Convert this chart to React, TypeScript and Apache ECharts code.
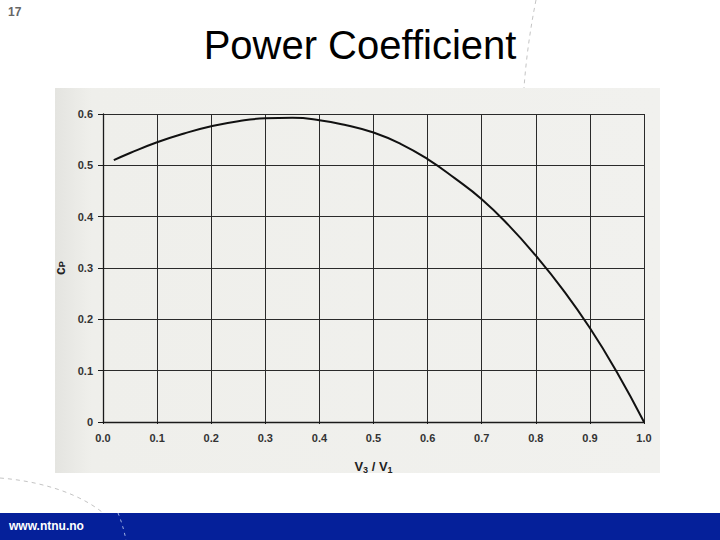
import React, { useEffect, useRef } from "react";
import * as echarts from "echarts";

// Velocity ratio V3/V1 and power coefficient
const speedRatio = [0.02, 0.05, 0.1, 0.15, 0.2, 0.25, 0.3, 0.35, 0.4, 0.45, 0.5, 0.55, 0.6, 0.65, 0.7, 0.75, 0.8, 0.85, 0.9, 0.95, 1.0];
const powerCoeff = [0.51, 0.524, 0.545, 0.562, 0.576, 0.586, 0.5915, 0.5925, 0.588, 0.578, 0.564, 0.542, 0.512, 0.475, 0.434, 0.383, 0.324, 0.258, 0.183, 0.097, 0.0];
const xTickLabels = ["0.0", "0.1", "0.2", "0.3", "0.4", "0.5", "0.6", "0.7", "0.8", "0.9", "1.0"];
const yTickLabels = ["0", "0.1", "0.2", "0.3", "0.4", "0.5", "0.6"];

const titleText = "Power Coefficient";
const pageNumber = "17";
const footerText = "www.ntnu.no";

export default function App() {
  const ref = useRef<HTMLDivElement>(null);

  useEffect(() => {
    if (!ref.current) return;
    const chart = echarts.init(ref.current, null, { renderer: "svg" });
    const data = speedRatio.map((x, i) => [x, powerCoeff[i]]);
    const labelFont = "'Liberation Sans', Arial, sans-serif";

    chart.setOption({
      animation: false,
      backgroundColor: "#ffffff",
      graphic: [
        // scanned figure background
        {
          type: "rect",
          z: -10,
          shape: { x: 55, y: 88, width: 605, height: 385 },
          style: {
            fill: new echarts.graphic.LinearGradient(0, 0, 1, 0, [
              { offset: 0, color: "#e4e4e0" },
              { offset: 0.06, color: "#efefeb" },
              { offset: 1, color: "#f1f1ee" },
            ]),
          },
        },
        // decorative dashed arcs
        {
          type: "bezierCurve",
          z: -5,
          shape: { x1: 536, y1: 0, x2: 524, y2: 88, cpx1: 530, cpy1: 30, cpx2: 526, cpy2: 60 },
          style: { stroke: "#c4c4c4", lineWidth: 1, lineDash: [4, 4], fill: "none" },
        },
        {
          type: "bezierCurve",
          z: -5,
          shape: { x1: 0, y1: 478, x2: 126, y2: 540, cpx1: 50, cpy1: 482, cpx2: 105, cpy2: 500 },
          style: { stroke: "#c4c4c4", lineWidth: 1, lineDash: [4, 4], fill: "none" },
        },
        {
          type: "text",
          left: 8,
          top: 6,
          style: { text: pageNumber, font: "bold 12px 'Liberation Sans', Arial, sans-serif", fill: "#666666" },
        },
        {
          type: "text",
          x: 360,
          y: 45,
          style: {
            text: titleText,
            font: "40px 'Liberation Sans', Arial, sans-serif",
            fill: "#000000",
            align: "center",
            verticalAlign: "middle",
          },
        },
        {
          type: "rect",
          shape: { x: 0, y: 513, width: 720, height: 27 },
          style: { fill: "#05209a" },
        },
        {
          type: "text",
          x: 9,
          y: 526,
          style: {
            text: footerText,
            font: "bold 12px 'Liberation Sans', Arial, sans-serif",
            fill: "#ffffff",
            verticalAlign: "middle",
          },
        },
        {
          type: "bezierCurve",
          shape: { x1: 118, y1: 513, x2: 126, y2: 540, cpx1: 121, cpy1: 520, cpx2: 124, cpy2: 530 },
          style: { stroke: "#9fb0e0", lineWidth: 1, lineDash: [3, 4], fill: "none" },
        },
      ],
      grid: { left: 103, right: 76, top: 114, bottom: 118, containLabel: false },
      xAxis: {
        type: "value",
        min: 0,
        max: 1,
        interval: 0.1,
        name: "V{s|3} / V{s|1}",
        nameLocation: "middle",
        nameGap: 37,
        nameTextStyle: {
          fontFamily: labelFont,
          fontWeight: "bold",
          fontSize: 13,
          color: "#222222",
          rich: {
            s: { fontFamily: labelFont, fontWeight: "bold", fontSize: 9, color: "#222222", verticalAlign: "bottom", padding: [6, 0, 0, 0] },
          },
        },
        axisLine: { show: true, lineStyle: { color: "#1a1a1a", width: 1.3 } },
        axisTick: { show: true, length: 2, lineStyle: { color: "#1a1a1a" } },
        axisLabel: {
          margin: 10,
          fontFamily: labelFont,
          fontWeight: "bold",
          fontSize: 11,
          color: "#333333",
          formatter: (v: number) => xTickLabels[Math.round(v * 10)] ?? "",
        },
        splitLine: { show: true, lineStyle: { color: "#2a2a2a", width: 1 } },
      },
      yAxis: {
        type: "value",
        min: 0,
        max: 0.6,
        interval: 0.1,
        name: "c{s|P}",
        nameLocation: "middle",
        nameGap: 36,
        nameRotate: 90,
        nameTextStyle: {
          fontFamily: labelFont,
          fontWeight: "bold",
          fontSize: 14,
          color: "#222222",
          rich: {
            s: { fontFamily: labelFont, fontWeight: "bold", fontSize: 9, color: "#222222", padding: [5, 0, 0, 0] },
          },
        },
        axisLine: { show: true, lineStyle: { color: "#1a1a1a", width: 1.3 } },
        axisTick: { show: true, length: 5, lineStyle: { color: "#1a1a1a" } },
        axisLabel: {
          margin: 10,
          fontFamily: labelFont,
          fontWeight: "bold",
          fontSize: 11,
          color: "#333333",
          formatter: (v: number) => yTickLabels[Math.round(v * 10)] ?? "",
        },
        splitLine: { show: true, lineStyle: { color: "#2a2a2a", width: 1.1 } },
      },
      series: [
        {
          type: "line",
          data,
          smooth: true,
          showSymbol: false,
          lineStyle: { color: "#111111", width: 2 },
        },
      ],
    });

    return () => chart.dispose();
  }, []);

  return (
    <div
      ref={ref}
      style={{ position: "absolute", left: 0, top: 0, width: 720, height: 540 }}
    />
  );
}
